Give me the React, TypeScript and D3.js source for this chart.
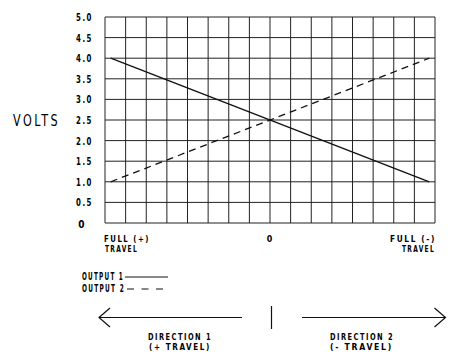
import React from 'react';
import { scaleLinear, line, range } from 'd3';

// travel position: -1 = FULL (+) TRAVEL, 0 = center, 1 = FULL (-) TRAVEL
const travel = [-1, 1];
const output1 = [4.0, 1.0];
const output2 = [1.0, 4.0];
const voltTicks = [0, 0.5, 1.0, 1.5, 2.0, 2.5, 3.0, 3.5, 4.0, 4.5, 5.0];
const voltLabels = ['0', '0.5', '1.0', '1.5', '2.0', '2.5', '3.0', '3.5', '4.0', '4.5', '5.0'];
const gridColumns = 16;

const FONT = '"DejaVu Sans Condensed", "DejaVu Sans", sans-serif';

type Row = { text: string; x: number; y: number; len?: number };

// narrow, spaced-out lettering like a drafting stencil; several rows share one <text>
const Label = ({ rows, size = 10, weight = 700, anchor = 'start' }: { rows: Row[]; size?: number; weight?: number; anchor?: string }) => (
  <text textAnchor={anchor} fontFamily={FONT} fontSize={size} fontWeight={weight} fill="#000"
    letterSpacing={size * 0.2}>
    {rows.map((r, i) => (
      <tspan key={i} x={r.x} y={r.y} textLength={r.len} lengthAdjust={r.len ? 'spacingAndGlyphs' : undefined}>
        {r.text}
      </tspan>
    ))}
  </text>
);

const App = () => {
  const width = 454;
  const height = 354;
  const plot = { left: 105, right: 435, top: 17, bottom: 223 };

  // data ends sit a little inside the grid frame
  const pad = 1.036;
  const x = scaleLinear().domain([-pad, pad]).range([plot.left, plot.right]);
  const y = scaleLinear().domain([0, 5]).range([plot.bottom, plot.top]);

  const colX = range(gridColumns + 1).map(i => -pad + (i * 2 * pad) / gridColumns);

  const path = line<number>()
    .x((_, i) => x(travel[i]))
    .y(d => y(d));

  const two = 8.9; // size for the stacked two-row labels

  return (
    <svg width={width} height={height} style={{ position: 'absolute', left: 0, top: 0, background: '#fff' }}>
      {/* grid */}
      <g stroke="#222" strokeWidth={1} fill="none">
        {voltTicks.map(v => (
          <line key={'h' + v} x1={plot.left} x2={plot.right} y1={y(v)} y2={y(v)} />
        ))}
        {colX.map((c, i) => (
          <line key={'v' + i} x1={x(c)} x2={x(c)} y1={plot.top} y2={plot.bottom} />
        ))}
      </g>

      {/* series */}
      <path d={path(output1) || ''} fill="none" stroke="#111" strokeWidth={1.3} />
      <path d={path(output2) || ''} fill="none" stroke="#111" strokeWidth={1.3} strokeDasharray="7,5" />

      {/* y axis labels */}
      {voltTicks.map((v, i) =>
        voltLabels[i].length > 1 ? (
          <Label key={'t' + v} rows={[{ text: voltLabels[i], x: 76, y: y(v) + 4, len: 17 }]} />
        ) : (
          <Label key={'t' + v} anchor="middle" rows={[{ text: voltLabels[i], x: 82.5, y: y(v) + 4.5 }]} />
        )
      )}
      <Label size={16.5} weight={400} rows={[{ text: 'VOLTS', x: 13, y: 126, len: 47 }]} />

      {/* x axis labels */}
      <Label size={two} rows={[{ text: 'FULL (+)', x: 104, y: 241.5, len: 46 }]} />
      <Label size={two} rows={[{ text: 'TRAVEL', x: 105, y: 252, len: 33 }]} />
      <Label size={two} anchor="middle" rows={[{ text: '0', x: x(0) + 0.5, y: 241.5 }]} />
      <Label size={two} rows={[{ text: 'FULL (-)', x: 390, y: 241.5, len: 46 }]} />
      <Label size={two} rows={[{ text: 'TRAVEL', x: 402, y: 252, len: 33 }]} />

      {/* legend */}
      <Label rows={[{ text: 'OUTPUT 1', x: 82, y: 280, len: 42 }]} />
      <Label rows={[{ text: 'OUTPUT 2', x: 82, y: 292, len: 43 }]} />
      <line x1={125} x2={168} y1={277} y2={277} stroke="#111" strokeWidth={1.2} />
      <line x1={127} x2={168} y1={289} y2={289} stroke="#111" strokeWidth={1.2} strokeDasharray="7,7.5" />

      {/* direction arrows */}
      <g stroke="#111" strokeWidth={1.2} fill="none">
        <line x1={99} x2={242} y1={317.5} y2={317.5} />
        <polyline points="110,308 99,317.5 110,327" />
        <line x1={271.5} x2={271.5} y1={306} y2={329} />
        <line x1={302} x2={445.5} y1={317.5} y2={317.5} />
        <polyline points="434.5,308 445.5,317.5 434.5,327" />
      </g>
      <Label size={two} rows={[{ text: 'DIRECTION 1', x: 148, y: 339.5, len: 64 }]} />
      <Label size={two} rows={[{ text: '(+ TRAVEL)', x: 149, y: 350, len: 62 }]} />
      <Label size={two} rows={[{ text: 'DIRECTION 2', x: 330, y: 339.5, len: 64 }]} />
      <Label size={two} rows={[{ text: '(- TRAVEL)', x: 330, y: 350, len: 63 }]} />
    </svg>
  );
};

export default App;
